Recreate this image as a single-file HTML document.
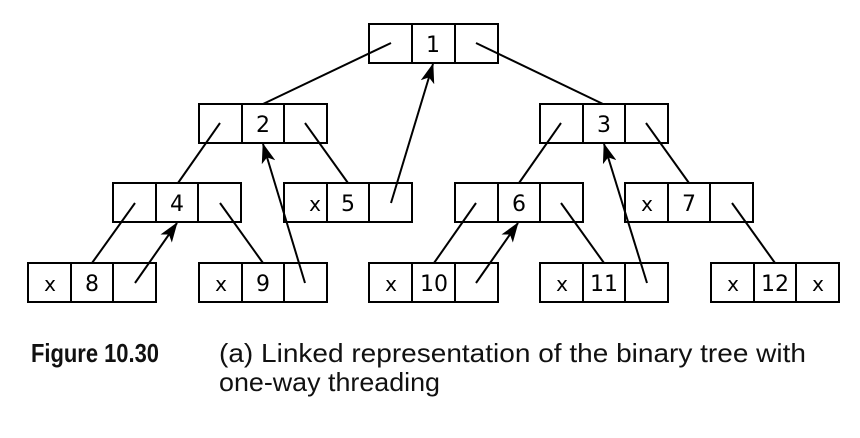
<!DOCTYPE html>
<html><head><meta charset="utf-8"><style>
html,body{margin:0;padding:0;background:#fff;}
svg{display:block;}
</style></head><body>
<svg width="860" height="438" viewBox="0 0 860 438" xmlns="http://www.w3.org/2000/svg">
<defs>
<marker id="ah" viewBox="0 0 20 14" refX="19" refY="7" markerWidth="20" markerHeight="14" markerUnits="userSpaceOnUse" orient="auto">
<path d="M0,0 L20,7 L0,14 L5,7 Z" fill="#000"/>
</marker>
</defs>
<g stroke="#000" stroke-width="2" fill="none">
<rect x="369" y="24" width="129" height="39"/><line x1="412" y1="24" x2="412" y2="63"/><line x1="455" y1="24" x2="455" y2="63"/>
<rect x="199" y="104" width="128" height="39"/><line x1="242" y1="104" x2="242" y2="143"/><line x1="284" y1="104" x2="284" y2="143"/>
<rect x="540" y="104" width="128" height="39"/><line x1="583" y1="104" x2="583" y2="143"/><line x1="625" y1="104" x2="625" y2="143"/>
<rect x="113" y="183" width="128" height="39"/><line x1="156" y1="183" x2="156" y2="222"/><line x1="198" y1="183" x2="198" y2="222"/>
<rect x="284" y="183" width="128" height="39"/><line x1="327" y1="183" x2="327" y2="222"/><line x1="369" y1="183" x2="369" y2="222"/>
<rect x="455" y="183" width="128" height="39"/><line x1="498" y1="183" x2="498" y2="222"/><line x1="540" y1="183" x2="540" y2="222"/>
<rect x="625" y="183" width="128" height="39"/><line x1="668" y1="183" x2="668" y2="222"/><line x1="710" y1="183" x2="710" y2="222"/>
<rect x="28" y="263" width="128" height="39"/><line x1="71" y1="263" x2="71" y2="302"/><line x1="113" y1="263" x2="113" y2="302"/>
<rect x="199" y="263" width="128" height="39"/><line x1="242" y1="263" x2="242" y2="302"/><line x1="284" y1="263" x2="284" y2="302"/>
<rect x="369" y="263" width="129" height="39"/><line x1="412" y1="263" x2="412" y2="302"/><line x1="455" y1="263" x2="455" y2="302"/>
<rect x="540" y="263" width="128" height="39"/><line x1="583" y1="263" x2="583" y2="302"/><line x1="625" y1="263" x2="625" y2="302"/>
<rect x="711" y="263" width="128" height="39"/><line x1="754" y1="263" x2="754" y2="302"/><line x1="796" y1="263" x2="796" y2="302"/>
<line x1="391" y1="43" x2="263" y2="104"/>
<line x1="476" y1="43" x2="603" y2="104"/>
<line x1="220" y1="123" x2="178" y2="183"/>
<line x1="305" y1="123" x2="348" y2="183"/>
<line x1="561" y1="123" x2="519" y2="183"/>
<line x1="646" y1="123" x2="689" y2="183"/>
<line x1="135" y1="203" x2="92" y2="263"/>
<line x1="220" y1="203" x2="263" y2="263"/>
<line x1="476" y1="203" x2="434" y2="263"/>
<line x1="561" y1="203" x2="604" y2="263"/>
<line x1="732" y1="203" x2="775" y2="263"/>
<line x1="135" y1="283" x2="177" y2="223" marker-end="url(#ah)"/>
<line x1="305" y1="283" x2="263" y2="144" marker-end="url(#ah)"/>
<line x1="391" y1="203" x2="433" y2="64" marker-end="url(#ah)"/>
<line x1="476" y1="283" x2="518" y2="223" marker-end="url(#ah)"/>
<line x1="647" y1="283" x2="604" y2="144" marker-end="url(#ah)"/>
</g>
<g font-family="DejaVu Sans, sans-serif" font-size="22" text-anchor="middle" fill="#000">
<text x="433" y="52">1</text>
<text x="263" y="132">2</text>
<text x="604" y="132">3</text>
<text x="177" y="211">4</text>
<text x="348" y="211">5</text><text x="315" y="211" font-size="20">x</text>
<text x="519" y="211">6</text>
<text x="689" y="211">7</text><text x="647" y="211" font-size="20">x</text>
<text x="92" y="291">8</text><text x="50" y="291" font-size="20">x</text>
<text x="263" y="291">9</text><text x="221" y="291" font-size="20">x</text>
<text x="434" y="291">10</text><text x="391" y="291" font-size="20">x</text>
<text x="604" y="291">11</text><text x="562" y="291" font-size="20">x</text>
<text x="775" y="291">12</text><text x="733" y="291" font-size="20">x</text><text x="818" y="291" font-size="20">x</text>
</g>
<g font-family="Liberation Sans, sans-serif" font-size="26" fill="#111">
<text x="31" y="362" font-weight="bold" textLength="128" lengthAdjust="spacingAndGlyphs">Figure 10.30</text>
<text x="219" y="362" textLength="587" lengthAdjust="spacingAndGlyphs">(a) Linked representation of the binary tree with</text>
<text x="219" y="391" textLength="221" lengthAdjust="spacingAndGlyphs">one-way threading</text>
</g>
</svg>
</body></html>
